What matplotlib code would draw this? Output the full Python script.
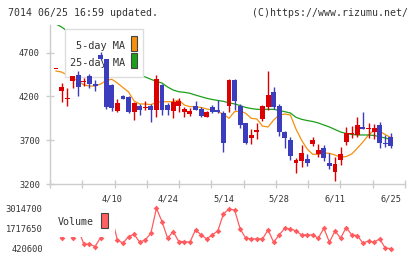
import matplotlib
matplotlib.use("Agg")
import matplotlib.pyplot as plt
from matplotlib.patches import Rectangle
import numpy as np

# ---------------- data ----------------
date_labels = ["4/10", "4/24", "5/14", "5/28", "6/11", "6/25"]
date_label_idx = [10, 20, 30, 40, 50, 60]

opens = [4513, 4262, 4167, 4380, 4445, 4370, 4433, 4339, 4673, 4624,
         4331, 4034, 4205, 4190, 4026, 4094, 4064, 4094, 4045, 4331,
         4102, 4034, 4091, 4026, 3999, 4094, 4057, 3969, 4083, 4045,
         4014, 4091, 4388, 4091, 3893, 3729, 3797, 3939, 4083, 4247,
         4091, 3797, 3702, 3443, 3466, 3485, 3653, 3539, 3608, 3443,
         3340, 3474, 3683, 3771, 3760, 3854, 3830, 3797, 3874, 3672,
         3733]
highs = [4513, 4350, 4293, 4433, 4490, 4407, 4456, 4388, 4711, 4630,
         4340, 4167, 4216, 4205, 4136, 4114, 4148, 4114, 4445, 4342,
         4122, 4179, 4186, 4083, 4064, 4148, 4083, 4034, 4102, 4159,
         4037, 4395, 4395, 4114, 3900, 3828, 3900, 4100, 4494, 4304,
         4114, 3800, 3740, 3500, 3645, 3539, 3733, 3657, 3645, 3551,
         3512, 3626, 3854, 3862, 3962, 4019, 3893, 3885, 3911, 3760,
         3779]
lows = [4513, 4140, 4094, 4293, 4208, 4323, 4293, 4262, 4616, 4060,
        4034, 4026, 4170, 4007, 3931, 3988, 4045, 3911, 3969, 3988,
        3988, 3950, 4026, 3969, 3980, 4040, 3962, 3962, 4011, 4011,
        3569, 4026, 4045, 3836, 3653, 3657, 3714, 3919, 4045, 4053,
        3748, 3608, 3474, 3322, 3398, 3405, 3634, 3512, 3463, 3371,
        3238, 3417, 3645, 3722, 3740, 3831, 3722, 3710, 3615, 3626,
        3608]
closes = [4513, 4304, 4186, 4433, 4304, 4380, 4339, 4323, 4622, 4075,
          4064, 4122, 4176, 4026, 4122, 4045, 4083, 4045, 4399, 4045,
          4045, 4140, 4148, 4057, 4034, 4045, 3977, 4026, 4019, 4019,
          3668, 4388, 4151, 3874, 3672, 3760, 3817, 4091, 4216, 4076,
          3797, 3729, 3523, 3474, 3551, 3443, 3702, 3588, 3500, 3409,
          3428, 3543, 3779, 3782, 3874, 3831, 3840, 3836, 3672, 3660,
          3637]

ma5 = [4490, 4479, 4445, 4411, 4376, 4331, 4319, 4319, 4342, 4382,
       4396, 4353, 4302, 4251, 4148, 4114, 4114, 4106, 4133, 4140,
       4140, 4140, 4159, 4102, 4083, 4083, 4074, 4057, 4045, 4026,
       3999, 3950, 4026, 4034, 4007, 3950, 3942, 3862, 3851, 3931,
       3988, 3999, 3988, 3828, 3702, 3600, 3539, 3539, 3554, 3551,
       3531, 3505, 3514, 3543, 3608, 3680, 3760, 3811, 3800, 3765,
       3731]
ma25 = [5027, 4993, 4947, 4902, 4862, 4822, 4776, 4730, 4690, 4650,
        4610, 4570, 4536, 4502, 4473, 4445, 4422, 4396, 4371, 4353,
        4308, 4273, 4254, 4247, 4236, 4216, 4197, 4179, 4165, 4154,
        4144, 4128, 4114, 4096, 4074, 4062, 4053, 4053, 4053, 4053,
        4039, 4026, 4011, 3962, 3939, 3925, 3914, 3897, 3874, 3851,
        3822, 3794, 3777, 3765, 3760, 3760, 3760, 3754, 3740, 3725,
        3708]

volume = [1500000, 1085000, 1400000, 1085000, 1630000, 699000, 699000, 549000, 1128000, 1900000,
          2400000, 978000, 764000, 1192000, 1342000, 828000, 978000, 1407000, 3014700, 2157000,
          1085000, 1514000, 871000, 871000, 828000, 1621000, 1300000, 1042000, 1300000, 1557000,
          2650000, 2972000, 2908000, 1686000, 1085000, 1042000, 1042000, 1042000, 1621000, 828000,
          1300000, 1728000, 1686000, 1557000, 1300000, 1300000, 1300000, 1085000, 1728000, 828000,
          1557000, 1085000, 1771000, 1300000, 1257000, 764000, 914000, 828000, 1042000, 442000,
          420600]

price_ticks = [3200, 3700, 4200, 4700]
volume_ticks = [420600, 1717650, 3014700]

title_left = "7014 06/25 16:59 updated."
title_right = "(C)https://www.rizumu.net/"
legend_labels = ["5-day MA", "25-day MA"]

# ---------------- style ----------------
UP = "#dd0000"
DOWN = "#3c3cbe"
C_MA5 = "#f5900f"
C_MA25 = "#1aa01a"
C_VOL = "#ff5c5f"
GRID = "#cccccc"
TXT = "#333333"
MONO = "DejaVu Sans Mono"

W, H = 420, 259
fig = plt.figure(figsize=(W / 100, H / 100), dpi=100)
fig.patch.set_facecolor("white")


def fx(x):
    return x / W


def fy(y):
    return 1 - y / H


def px_axes(x0, y0, x1, y1):
    return fig.add_axes([fx(x0), fy(y1), (x1 - x0) / W, (y1 - y0) / H])


n = len(closes)
xs = np.arange(n)
XLIM = (-1.075, 62.54)

# ---------------- price panel ----------------
ax = px_axes(50, 25, 405, 184)
ax.set_xlim(*XLIM)
ax.set_ylim(3200, 5016)
ax.set_facecolor("none")
for s in ["top", "right"]:
    ax.spines[s].set_visible(False)
for s in ["left", "bottom"]:
    ax.spines[s].set_color(GRID)
    ax.spines[s].set_linewidth(1.0)

ax.set_yticks(price_ticks)
ax.set_yticklabels([str(t) for t in price_ticks], fontfamily=MONO, fontsize=6.2, color=TXT)
ax.tick_params(axis="y", direction="inout", length=6, width=1.0, color=GRID, pad=4.2)

ax.set_xticks(np.linspace(XLIM[0], XLIM[1], 12))
ax.set_xticklabels([])
ax.tick_params(axis="x", which="major", direction="inout", length=6, width=1.0, color=GRID)
ax.set_xticks(date_label_idx, minor=True)
ax.set_xticklabels(date_labels, minor=True, fontfamily=MONO, fontsize=6.2, color=TXT)
ax.tick_params(axis="x", which="minor", length=0, pad=7.5)

# moving averages (below legend box and candles)
ax.plot(xs, ma5, color=C_MA5, lw=0.9, zorder=2)
ax.plot(xs, ma25, color=C_MA25, lw=0.9, zorder=2)

# legend box (drawn over the MA lines, under the candles)
ax.add_patch(Rectangle((fx(65), fy(77)), (143 - 65) / W, (77 - 29) / H,
                       transform=fig.transFigure, facecolor="white",
                       edgecolor="#dddddd", lw=1.0, zorder=3, clip_on=False))
for k, (lab, col) in enumerate(zip(legend_labels, [C_MA5, C_MA25])):
    yc = 46 + 16.7 * k
    ax.text(fx(125.5), fy(yc), lab, transform=fig.transFigure, ha="right", va="center",
            fontfamily=MONO, fontsize=7.4, color=TXT, zorder=3.5)
    ax.add_patch(Rectangle((fx(131), fy(yc + 5.5)), 6 / W, 15 / H,
                           transform=fig.transFigure, facecolor=col,
                           edgecolor="#444444", lw=0.8, zorder=3.5, clip_on=False))

# candles
o = np.array(opens, float)
c = np.array(closes, float)
hi = np.array(highs, float)
lo = np.array(lows, float)
cols = [UP if cc >= oo else DOWN for oo, cc in zip(o, c)]
ax.vlines(xs, lo, hi, colors=cols, lw=1.0, zorder=4)
body_bottom = np.minimum(o, c)
body_h = np.maximum(np.abs(c - o), 12)
ax.bar(xs, body_h, bottom=body_bottom, width=0.88, color=cols, linewidth=0, zorder=5)

# ---------------- volume panel ----------------
axv = px_axes(50, 208.3, 405, 248.5)
axv.set_xlim(*XLIM)
axv.set_ylim(volume_ticks[0], volume_ticks[-1])
axv.set_facecolor("none")
for s in axv.spines.values():
    s.set_visible(False)
axv.set_xticks([])
axv.set_yticks(volume_ticks)
axv.set_yticklabels([str(t) for t in volume_ticks], fontfamily=MONO, fontsize=6.3, color=TXT)
axv.tick_params(axis="y", length=0, pad=5.3)
axv.plot(xs, volume, color=C_VOL, lw=0.9, marker="D", markersize=2.9,
         markeredgewidth=0, clip_on=False, zorder=2)
axv.add_patch(Rectangle((fx(50), fy(236.5)), (114.5 - 50) / W, (236.5 - 203) / H,
                        transform=fig.transFigure, facecolor="white",
                        edgecolor="none", zorder=3, clip_on=False))
axv.text(fx(57.5), fy(221.7), "Volume", transform=fig.transFigure, ha="left", va="center",
         fontfamily=MONO, fontsize=7.2, color=TXT, zorder=4)
axv.add_patch(Rectangle((fx(101), fy(228)), 7 / W, 15 / H, transform=fig.transFigure,
                        facecolor="#ff6060", edgecolor="#444444", lw=0.8, zorder=4, clip_on=False))

# ---------------- header ----------------
fig.text(fx(8), fy(12.5), title_left, ha="left", va="center", fontfamily=MONO,
         fontsize=7.1, color=TXT)
fig.text(fx(408.5), fy(12.5), title_right, ha="right", va="center", fontfamily=MONO,
         fontsize=7.1, color=TXT)

fig.savefig("out.png", dpi=100, facecolor="white")
